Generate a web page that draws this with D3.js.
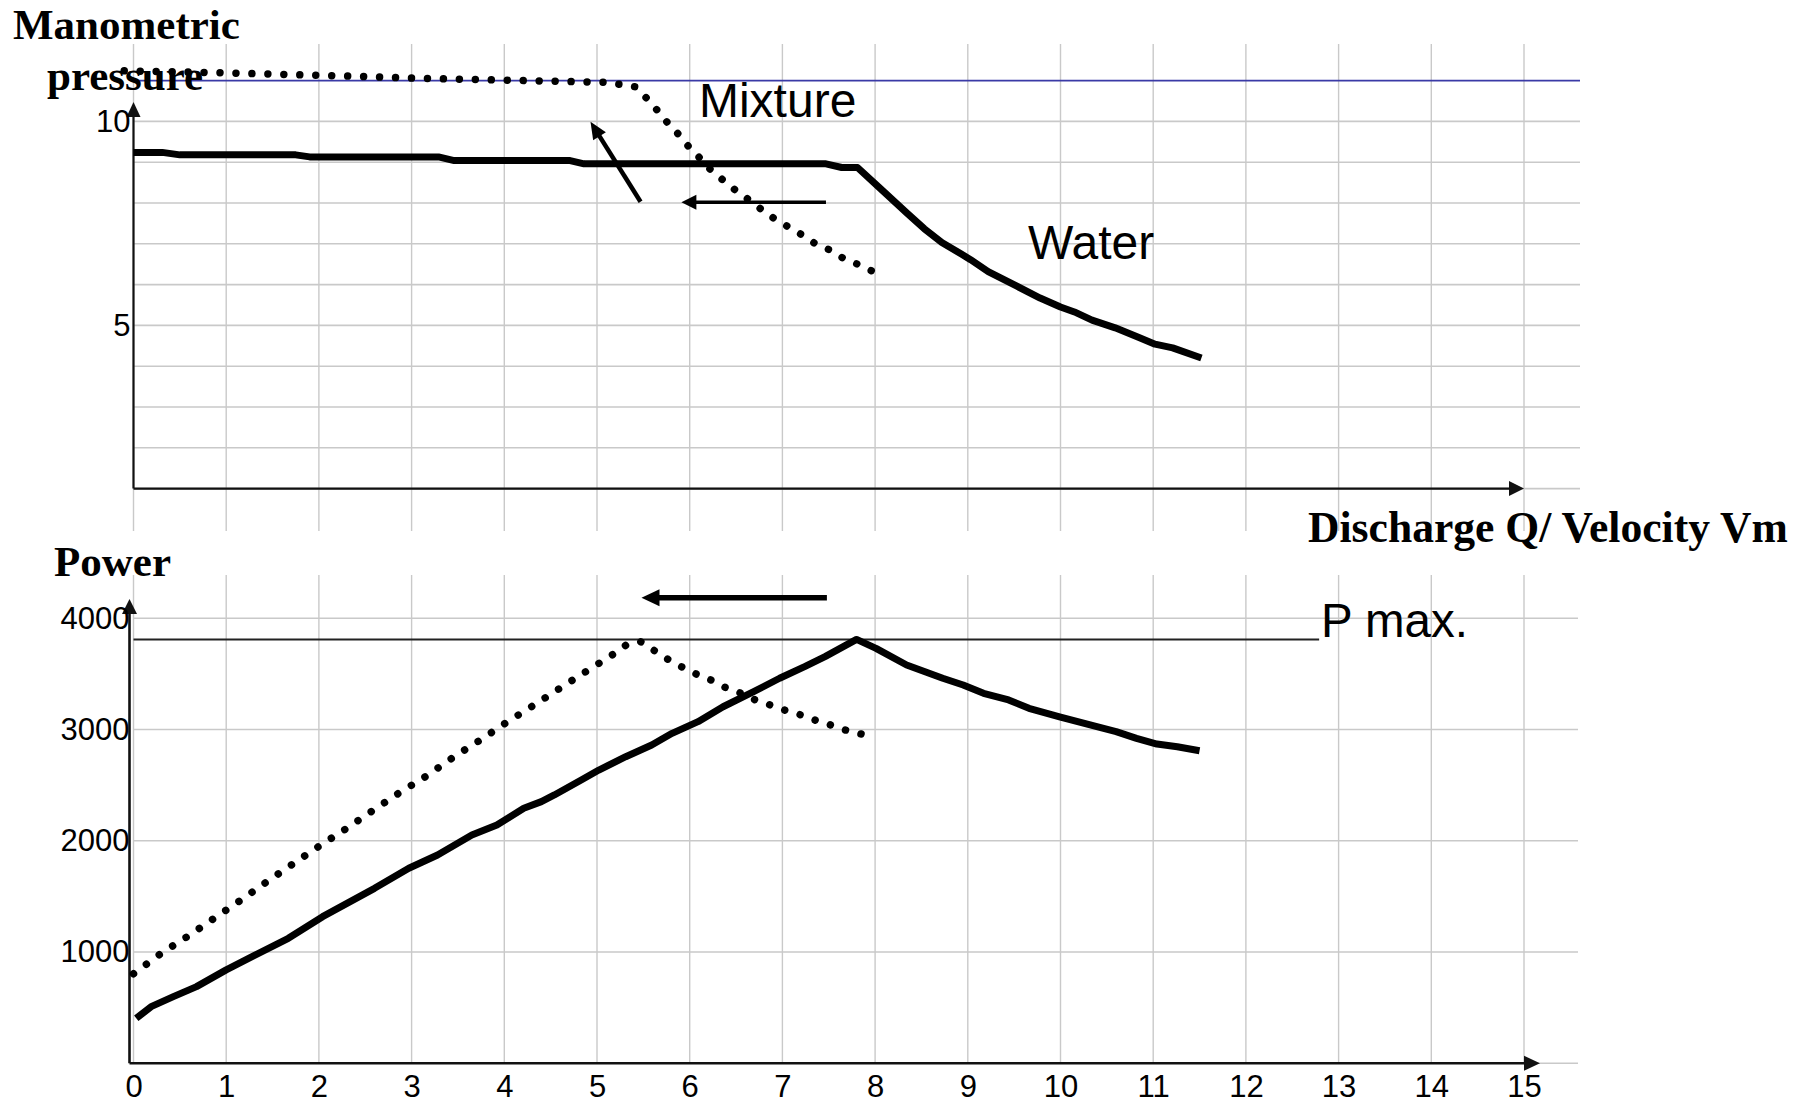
<!DOCTYPE html>
<html>
<head>
<meta charset="utf-8">
<script src="https://cdn.jsdelivr.net/npm/d3@7"></script>
<style>
  html, body { margin: 0; padding: 0; background: #fff; }
  svg { display: block; }
</style>
</head>
<body>
<script>
// ---- data -----------------------------------------------------------
// discharge / velocity ticks shared by both panels
const qTicks = d3.range(0, 16);              // 0 … 15
const pressureTicks = [5, 10];
const pressureGrid = d3.range(1, 11);        // 1 … 10
const pressureRef = 11;                      // blue reference level
const powerTicks = [1000, 2000, 3000, 4000];
const powerGrid = [0, 1000, 2000, 3000, 4000];
const pMax = 3810;

// manometric pressure, clean water (solid)
const waterPressureQ = [0, 0.31, 0.5, 1.75, 1.9, 3.29, 3.46, 4.71, 4.86, 7.47, 7.64, 7.81,
  8.04, 8.35, 8.53, 8.72, 8.93, 9.03, 9.22, 9.53, 9.78, 10.0, 10.15, 10.34, 10.59, 10.84, 11.02, 11.21, 11.52];
const waterPressureH = [9.24, 9.24, 9.18, 9.18, 9.13, 9.13, 9.04, 9.04, 8.96, 8.96, 8.87, 8.87,
  8.39, 7.74, 7.37, 7.03, 6.75, 6.61, 6.32, 5.96, 5.67, 5.45, 5.33, 5.13, 4.94, 4.71, 4.54, 4.45, 4.2];

// manometric pressure, mixture (dotted)
const mixPressureQ = [-0.1, 0.97, 2.16, 3.19, 4.23, 5.07, 5.24, 5.41, 5.53, 5.64, 5.76, 5.88, 5.99,
  6.11, 6.22, 6.36, 6.49, 6.63, 6.77, 6.91, 7.06, 7.21, 7.35, 7.51, 7.66, 7.81, 7.96];
const mixPressureH = [11.24, 11.19, 11.12, 11.05, 11.0, 10.96, 10.91, 10.85, 10.58, 10.3, 9.97, 9.68, 9.38,
  9.1, 8.83, 8.56, 8.32, 8.09, 7.85, 7.62, 7.42, 7.22, 7.01, 6.85, 6.64, 6.5, 6.34];

// power, clean water (solid)
const waterPowerQ = [0.03, 0.19, 0.43, 0.68, 1.0, 1.3, 1.67, 2.04, 2.6, 2.97, 3.28, 3.65, 3.92, 4.21, 4.4,
  4.54, 4.83, 5.02, 5.31, 5.59, 5.81, 6.09, 6.36, 6.69, 6.97, 7.24, 7.46, 7.8, 8.01, 8.34, 8.73, 8.95,
  9.17, 9.44, 9.66, 9.99, 10.32, 10.6, 10.82, 11.04, 11.26, 11.5];
const waterPowerP = [404, 509, 599, 689, 840, 968, 1124, 1318, 1573, 1753, 1872, 2052, 2142, 2292, 2352,
  2412, 2547, 2636, 2756, 2861, 2966, 3071, 3205, 3340, 3461, 3565, 3655, 3810, 3730, 3580, 3461, 3400,
  3326, 3266, 3191, 3115, 3041, 2981, 2921, 2870, 2846, 2810];

// power, mixture (dotted)
const mixPowerQ = [0.0, 0.3, 0.59, 0.88, 1.16, 1.44, 1.73, 2.01, 2.3, 2.58, 2.87, 3.16, 3.45, 3.73, 4.02,
  4.31, 4.6, 4.89, 5.18, 5.32, 5.47, 5.62, 5.76, 5.91, 6.07, 6.23, 6.38, 6.54, 6.69, 6.86, 7.02, 7.19,
  7.35, 7.52, 7.68, 7.85];
const mixPowerP = [805, 989, 1144, 1309, 1468, 1633, 1798, 1956, 2112, 2271, 2433, 2582, 2751, 2900, 3062,
  3214, 3371, 3526, 3679, 3763, 3790, 3709, 3634, 3565, 3499, 3445, 3380, 3331, 3272, 3223, 3176, 3134,
  3086, 3041, 2996, 2960];

// ---- layout ---------------------------------------------------------
const W = 1811, H = 1103;
const sans = "'Liberation Sans', Arial, sans-serif";
const serif = "'Liberation Serif', 'Times New Roman', serif";
const gridColor = "#c9c9c9";

const x = d3.scaleLinear().domain([0, 15]).range([133.5, 1524]);
const yTop = d3.scaleLinear().domain([1, 11]).range([488.6, 80.6]);
const yBot = d3.scaleLinear().domain([0, 4000]).range([1063.3, 618.3]);

const gridRight = 1580;

const svg = d3.select("body").append("svg")
  .attr("width", W).attr("height", H)
  .attr("viewBox", `0 0 ${W} ${H}`);

svg.append("rect").attr("width", W).attr("height", H).attr("fill", "#fff");

function arrow(g, x1, y1, x2, y2, w, headLen, headHalf, color = "#000") {
  const dx = x2 - x1, dy = y2 - y1, L = Math.hypot(dx, dy);
  const ux = dx / L, uy = dy / L, px = -uy, py = ux;
  const bx = x2 - ux * headLen, by = y2 - uy * headLen;
  g.append("line")
    .attr("x1", x1).attr("y1", y1).attr("x2", bx + ux).attr("y2", by + uy)
    .attr("stroke", color).attr("stroke-width", w);
  g.append("path")
    .attr("d", `M${x2},${y2}L${bx + px * headHalf},${by + py * headHalf}L${bx - px * headHalf},${by - py * headHalf}Z`)
    .attr("fill", color);
}

// round dots spaced evenly so that both ends of the curve carry a dot
function dotted(path, step) {
  const L = path.node().getTotalLength();
  const n = Math.max(1, Math.round(L / step));
  const gap = (L - 0.2) / n;
  path.attr("stroke-linecap", "round").attr("stroke-dasharray", `0.01 ${gap - 0.01}`);
}

const tickFont = g => g.selectAll("text")
  .attr("font-family", sans).attr("font-size", 31).attr("fill", "#000");

// ---- upper panel: manometric pressure -------------------------------
const pressurePanel = svg.append("g");

// vertical grid
pressurePanel.append("g").selectAll("line").data(qTicks).join("line")
  .attr("x1", d => x(d)).attr("x2", d => x(d))
  .attr("y1", 44).attr("y2", 531)
  .attr("stroke", gridColor).attr("stroke-width", 1.4);

// horizontal grid
pressurePanel.append("g").selectAll("line").data(pressureGrid).join("line")
  .attr("x1", x(0)).attr("x2", gridRight)
  .attr("y1", d => yTop(d)).attr("y2", d => yTop(d))
  .attr("stroke", gridColor).attr("stroke-width", 1.6);

// reference level
pressurePanel.append("line")
  .attr("x1", x(0)).attr("x2", gridRight)
  .attr("y1", yTop(pressureRef)).attr("y2", yTop(pressureRef))
  .attr("stroke", "#3a3aa6").attr("stroke-width", 1.6);

// axes
const topAxes = pressurePanel.append("g");
arrow(topAxes, x(0), yTop(1), x(15), yTop(1), 2.4, 15, 7.5, "#111");
arrow(topAxes, x(0), yTop(1), x(0), 102, 2.2, 15, 7, "#111");

pressurePanel.append("g")
  .attr("transform", `translate(${x(0)},0)`)
  .call(d3.axisLeft(yTop).tickValues(pressureTicks).tickFormat(d3.format("d")).tickSize(0).tickPadding(3))
  .call(g => g.select(".domain").remove())
  .call(tickFont);

// curves
const linePressure = d3.line().x(d => x(d[0])).y(d => yTop(d[1]));
pressurePanel.append("path")
  .datum(d3.zip(waterPressureQ, waterPressureH))
  .attr("d", linePressure)
  .attr("fill", "none").attr("stroke", "#000").attr("stroke-width", 7)
  .attr("stroke-linejoin", "round");

pressurePanel.append("path")
  .datum(d3.zip(mixPressureQ, mixPressureH))
  .attr("d", linePressure)
  .attr("fill", "none").attr("stroke", "#000").attr("stroke-width", 7.5)
  .call(dotted, 16);

// annotation arrows
const ann = pressurePanel.append("g");
arrow(ann, x(7.47), yTop(8.02), x(5.91), yTop(8.02), 3.4, 15, 7.5);
arrow(ann, x(5.47), yTop(8.03), x(4.93), yTop(9.99), 4.5, 17, 7.5);

// labels
pressurePanel.append("text").text("Mixture")
  .attr("x", x(6.1)).attr("y", yTop(10.11))
  .attr("font-family", sans).attr("font-size", 48);
pressurePanel.append("text").text("Water")
  .attr("x", x(9.65)).attr("y", yTop(6.62))
  .attr("font-family", sans).attr("font-size", 48);

const titleFont = t => t.attr("font-family", serif).attr("font-weight", "bold").attr("font-size", 43);
svg.append("text").text("Manometric").attr("x", 13).attr("y", 39).call(titleFont);
svg.append("text").text("pressure").attr("x", 47).attr("y", 90).call(titleFont);
svg.append("text").text("Discharge Q/ Velocity Vm").attr("x", 1308).attr("y", 542)
  .call(titleFont).attr("font-size", 43.6);

// ---- lower panel: power ---------------------------------------------
const powerPanel = svg.append("g");

powerPanel.append("g").selectAll("line").data(qTicks).join("line")
  .attr("x1", d => x(d)).attr("x2", d => x(d))
  .attr("y1", 575).attr("y2", yBot(0))
  .attr("stroke", gridColor).attr("stroke-width", 1.4);

powerPanel.append("g").selectAll("line").data(powerGrid).join("line")
  .attr("x1", x(0)).attr("x2", 1578)
  .attr("y1", d => yBot(d)).attr("y2", d => yBot(d))
  .attr("stroke", gridColor).attr("stroke-width", 1.6);

// P max. level
powerPanel.append("line")
  .attr("x1", x(0)).attr("x2", x(12.79))
  .attr("y1", yBot(pMax)).attr("y2", yBot(pMax))
  .attr("stroke", "#222").attr("stroke-width", 2);
powerPanel.append("text").text("P max.")
  .attr("x", x(12.81)).attr("y", yBot(3832))
  .attr("font-family", sans).attr("font-size", 47.5);

const botAxes = powerPanel.append("g");
const axisX0 = x(0) - 4;
arrow(botAxes, axisX0, yBot(0), 1540, yBot(0), 2.6, 16, 7.5, "#111");
arrow(botAxes, axisX0, yBot(0), axisX0, 599, 2.6, 15, 7.5, "#111");

powerPanel.append("g")
  .attr("transform", `translate(${x(0)},0)`)
  .call(d3.axisLeft(yBot).tickValues(powerTicks).tickFormat(d3.format("d")).tickSize(0).tickPadding(4))
  .call(g => g.select(".domain").remove())
  .call(tickFont);

powerPanel.append("g")
  .attr("transform", `translate(0,${yBot(0)})`)
  .call(d3.axisBottom(x).tickValues(qTicks).tickFormat(d3.format("d")).tickSize(0).tickPadding(12))
  .call(g => g.select(".domain").remove())
  .call(tickFont);

const linePower = d3.line().x(d => x(d[0])).y(d => yBot(d[1]));
powerPanel.append("path")
  .datum(d3.zip(waterPowerQ, waterPowerP))
  .attr("d", linePower)
  .attr("fill", "none").attr("stroke", "#000").attr("stroke-width", 7)
  .attr("stroke-linejoin", "round");

powerPanel.append("path")
  .datum(d3.zip(mixPowerQ, mixPowerP))
  .attr("d", linePower)
  .attr("fill", "none").attr("stroke", "#000").attr("stroke-width", 7.5)
  .call(dotted, 16);

arrow(powerPanel.append("g"), x(7.48), yBot(4185), x(5.48), yBot(4185), 5.5, 18, 8.5);

svg.append("text").text("Power").attr("x", 54).attr("y", 576).call(titleFont);
</script>
</body>
</html>
